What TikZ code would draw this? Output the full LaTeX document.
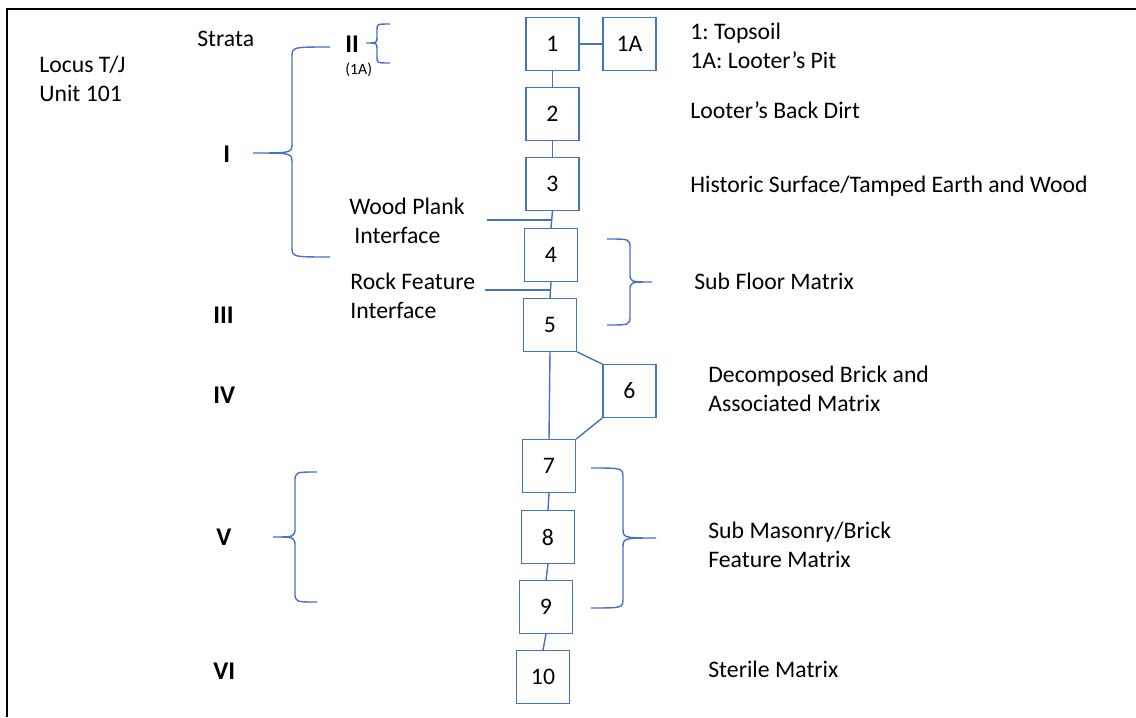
\documentclass[tikz,border=0pt]{standalone}
\usepackage{fontspec}
\setmainfont{Carlito}
\usepackage{tikz}
\usetikzlibrary{positioning}
\definecolor{bleu}{HTML}{4472C4}
\frenchspacing

\begin{document}
\begin{tikzpicture}[x=0.02cm, y=-0.02cm,
    font=\fontsize{13.5}{16.2}\selectfont,
    couche/.style={draw=bleu, line width=0.8pt, minimum width=1.06cm, minimum height=1.05cm, inner sep=0pt},
    lien/.style={bleu, line width=0.8pt},
    texte/.style={anchor=base west, inner sep=0pt, align=left},
    strate/.style={texte, font=\fontsize{14.5}{16.2}\selectfont\bfseries}]
    \useasboundingbox (0,0) rectangle (1136,717);
    \draw[line width=1.1pt] (7,717) -- (7,9) -- (1136,9);
    % couches
    \foreach \n/\x/\y in {1/552.5/44, 1A/629.5/44, 2/552.5/114, 3/552.5/184, 4/551/255,
      5/550/325, 6/629.5/391, 7/549/466, 8/548/537, 9/546/607, 10/543/677} {
      \node[couche] (c\n) at (\x,\y) {\n};
    }
    \foreach \a/\b in {1/2, 2/3, 3/4, 4/5, 5/7, 7/8, 8/9, 9/10} {
      \draw[lien] (c\a.south) -- (c\b.north);
    }
    \draw[lien] (c1) -- (c1A);
    \draw[lien] (c5.south east) -- (c6.north west);
    \draw[lien] (c6.south west) -- (c7.north east);
    % interfaces
    \coordinate (bois) at (487,220);
    \coordinate (roche) at (485,290);
    \draw[lien] (bois) -- (bois -| c4.north);
    \draw[lien] (roche) -- (roche -| c5.north);
    \node[texte] (planche) at (349,243) {Wood Plank\\\hspace{0.1cm}Interface};
    \node[texte] (rocher) at (350,318) {Rock Feature\\Interface};
    % accolades
    \foreach \xe/\xs/\xt/\ya/\ym/\yb/\r in {390/377/366/24/43/63/6, 330/292/253/47/153/257/10,
      607/630/652/239/282/325/9, 317/295/273/472/537/602/10, 591/623/656/468/538/608/10} {
      \draw[lien] (\xe,\ya) .. controls (\xs,\ya) .. (\xs,\ya+\r) -- (\xs,\ym-\r)
        .. controls (\xs,\ym) .. (\xt,\ym) .. controls (\xs,\ym) .. (\xs,\ym+\r)
        -- (\xs,\yb-\r) .. controls (\xs,\yb) .. (\xe,\yb);
    }
    % strates
    \node[texte] (titre) at (197,46) {Strata};
    \node[texte] (locus) at (39,101) {Locus T/J\\Unit 101};
    \node[strate] (s2) at (345,52) {II};
    \node[texte, font=\fontsize{9}{11}\selectfont] (s2b) at (345,74) {(1A)};
    \node[strate] (s1) at (223,162) {I};
    \node[strate] (s3) at (213,323) {III};
    \node[strate] (s4) at (213,403) {IV};
    \node[strate] (s5) at (216,545) {V};
    \node[strate] (s6) at (213,679) {VI};
    % descriptions
    \node[texte] (d1) at (690,68) {1: Topsoil\\1A: Looter’s Pit};
    \node[texte] (d2) at (690,118) {Looter’s Back Dirt};
    \node[texte] (d3) at (690,192) {Historic Surface/Tamped Earth and Wood};
    \node[texte] (d4) at (694,289) {Sub Floor Matrix};
    \node[texte] (d6) at (708,411) {Decomposed Brick and\\Associated Matrix};
    \node[texte] (d7) at (708,567) {Sub Masonry/Brick\\Feature Matrix};
    \node[texte] (d10) at (708,677) {Sterile Matrix};
  \end{tikzpicture}
\end{document}
